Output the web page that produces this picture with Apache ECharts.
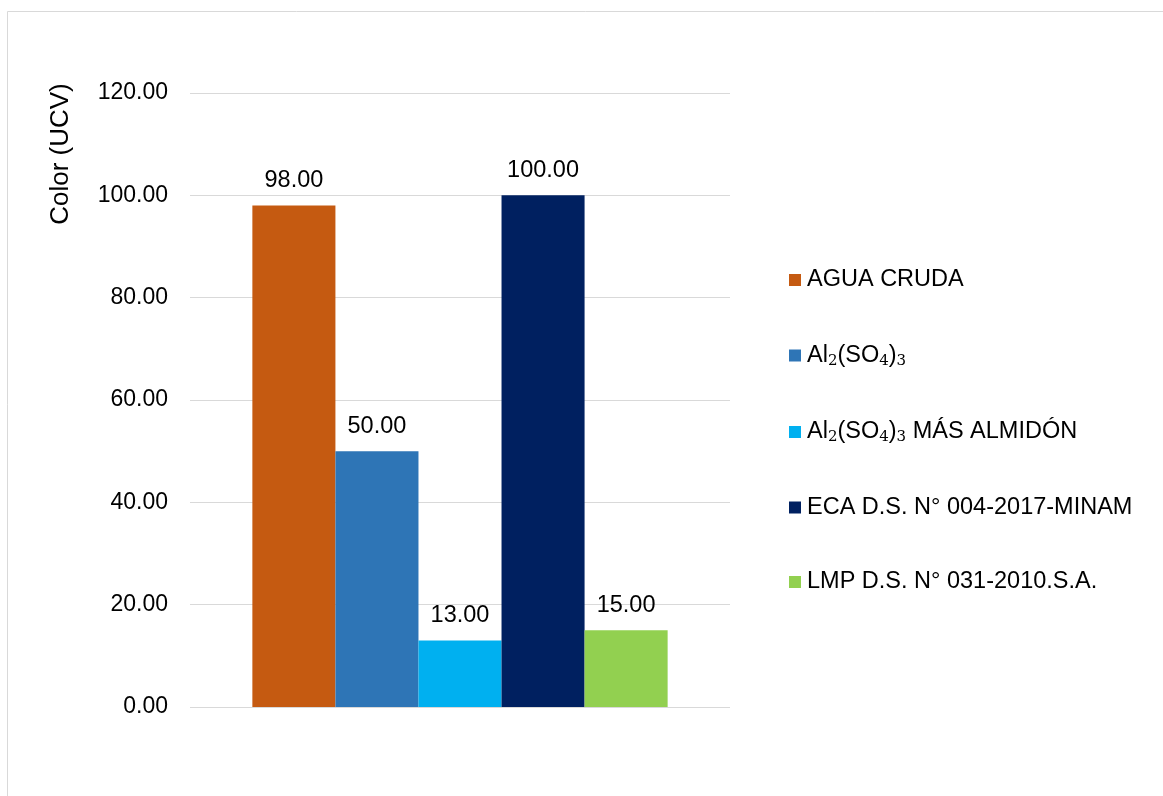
<!DOCTYPE html>
<html>
<head>
<meta charset="utf-8">
<script src="https://cdn.jsdelivr.net/npm/echarts@6/dist/echarts.min.js"></script>
<style>
  html, body { margin: 0; padding: 0; background: #fff; }
  #chart { width: 1163px; height: 796px; }
</style>
</head>
<body>
<div id="chart"></div>
<script>
// Color measurements per treatment / standard
const seriesNames = [
  'AGUA CRUDA',
  'Al₂(SO₄)₃',
  'Al₂(SO₄)₃ MÁS ALMIDÓN',
  'ECA D.S. N° 004-2017-MINAM',
  'LMP D.S. N° 031-2010.S.A.'
];
const seriesValues = [98, 50, 13, 100, 15];
const seriesColors = ['#C55A11', '#2E75B6', '#00B0F0', '#002060', '#92D050'];
const categories = [''];
const yTicks = { min: 0, max: 120, interval: 20 };
const yAxisTitle = 'Color (UCV)';

const FONT = '"Liberation Sans", Arial, sans-serif';

// Render unicode subscript digits as rich-text subscripts
const subMap = { '₂': '2', '₃': '3', '₄': '4' };
function toRich(name) {
  return name.replace(/[₂₃₄]/g, c => '{sub|' + subMap[c] + '}');
}

const chart = echarts.init(document.getElementById('chart'), null, { renderer: 'canvas' });

const series = seriesNames.map((name, i) => ({
  name: name,
  type: 'bar',
  data: [seriesValues[i]],
  itemStyle: { color: seriesColors[i] },
  barGap: '0%',
  barCategoryGap: '23.1%',
  label: {
    show: true,
    position: 'top',
    distance: 13,
    color: '#000',
    fontFamily: FONT,
    fontSize: 23.5,
    formatter: p => p.value.toFixed(2)
  }
}));

chart.setOption({
  animation: false,
  backgroundColor: '#fff',
  graphic: [
    {
      type: 'rect',
      shape: { x: 7.5, y: 11.5, width: 1300, height: 1000 },
      style: { fill: 'none', stroke: '#d9d9d9', lineWidth: 1 },
      silent: true
    },
    {
      type: 'text',
      x: 61,
      y: 154,
      rotation: Math.PI / 2,
      style: {
        text: yAxisTitle,
        fill: '#000',
        font: '26px ' + FONT,
        align: 'center',
        verticalAlign: 'middle'
      }
    }
  ],
  grid: { left: 190, right: 433, top: 93, bottom: 89, containLabel: false },
  legend: {
    orient: 'vertical',
    left: 789,
    top: 268,
    padding: 0,
    itemWidth: 12,
    itemHeight: 12,
    itemGap: 50.5,
    icon: 'rect',
    data: seriesNames,
    formatter: name => toRich(name),
    textStyle: {
      color: '#000',
      fontFamily: FONT,
      fontSize: 23.5,
      lineHeight: 24,
      padding: [0, 0, 0, 1],
      rich: {
        sub: {
          fontFamily: '"DejaVu Serif", serif',
          fontSize: 15,
          color: '#000',
          padding: [11, 0, 0, 0],
          lineHeight: 24
        }
      }
    }
  },
  xAxis: {
    type: 'category',
    data: categories,
    axisLine: { show: false },
    axisTick: { show: false },
    axisLabel: { show: false }
  },
  yAxis: {
    type: 'value',
    min: yTicks.min,
    max: yTicks.max,
    interval: yTicks.interval,
    axisLine: { show: false },
    axisTick: { show: false },
    axisLabel: {
      color: '#000',
      fontFamily: FONT,
      fontSize: 23,
      margin: 22,
      formatter: v => v.toFixed(2)
    },
    splitLine: { lineStyle: { color: '#d9d9d9', width: 1 } }
  },
  series: series
});
</script>
</body>
</html>
